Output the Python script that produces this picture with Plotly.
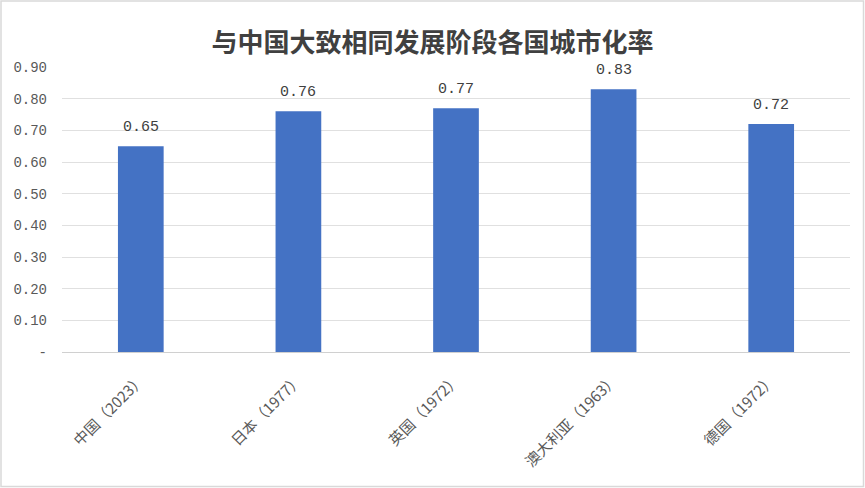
import plotly.graph_objects as go

categories = ["中国（2023）", "日本（1977）", "英国（1972）", "澳大利亚（1963）", "德国（1972）"]
values = [0.65, 0.76, 0.77, 0.83, 0.72]
tick_vals = [0, 0.1, 0.2, 0.3, 0.4, 0.5, 0.6, 0.7, 0.8, 0.9]
tick_text = ["-", "0.10", "0.20", "0.30", "0.40", "0.50", "0.60", "0.70", "0.80", "0.90"]
title = "与中国大致相同发展阶段各国城市化率"

W, H = 865, 488
L, R, T, B = 62, 15, 67, 136
pw, ph = W - L - R, H - T - B

fig = go.Figure(go.Bar(
    x=categories, y=values, width=0.29,
    marker=dict(color="#4472c4", line=dict(width=0)),
))

for c, v in zip(categories, values):
    fig.add_annotation(x=c, y=v, text=f"{v:.2f}", showarrow=False,
                       yanchor="bottom", yshift=8,
                       font=dict(family="Liberation Mono", size=15, color="#404040"))

fig.update_layout(
    width=W, height=H,
    margin=dict(l=L, r=R, t=T, b=B),
    paper_bgcolor="white", plot_bgcolor="white",
    title=dict(text="<b>" + title + "</b>", x=0.5, xanchor="center", y=1 - 43 / H, yanchor="middle",
               font=dict(family="Noto Sans CJK SC", size=26, color="#404040")),
    font=dict(family="Noto Sans CJK SC", color="#595959"),
    showlegend=False,
)
fig.update_yaxes(range=[0, 0.9], tickvals=tick_vals, ticktext=tick_text,
                 showgrid=True, gridcolor="#e0e0e0", gridwidth=1, zeroline=False,
                 showline=False, ticks="", ticklabelstandoff=14,
                 tickfont=dict(family="Liberation Mono", size=14, color="#595959"))
fig.update_xaxes(showline=True, linecolor="#d0d0d0", linewidth=1, ticks="",
                 tickangle=-45, ticklabelstandoff=12,
                 tickfont=dict(family="Noto Sans CJK SC", size=15, color="#595959"))

fig.add_shape(type="rect", xref="paper", yref="paper",
              x0=-(L - 1) / pw, x1=1 + (R - 1.5) / pw, y0=-(B - 1.5) / ph, y1=1 + (T - 1) / ph,
              line=dict(color="#d9d9d9", width=1.5), fillcolor="rgba(0,0,0,0)", layer="below")

fig.write_html("out.html", config={"displayModeBar": False},
               post_script="document.body.style.margin='0';")
